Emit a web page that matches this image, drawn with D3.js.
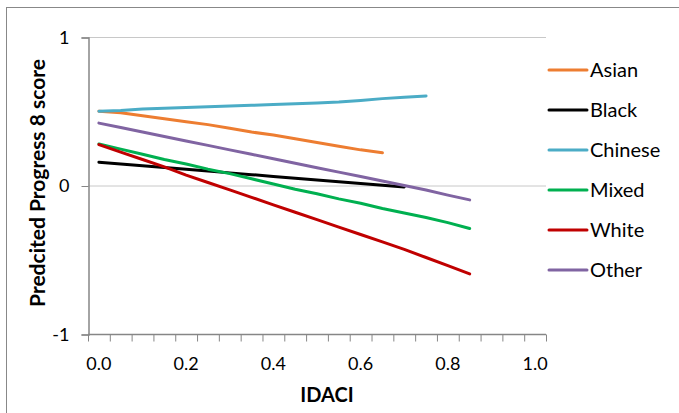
<!DOCTYPE html>
<html><head><meta charset="utf-8">
<script src="https://cdn.jsdelivr.net/npm/d3@7"></script>
<style>body{margin:0;background:#fff}svg{display:block}text{font-family:Lato,"Open Sans",sans-serif}</style>
</head><body><svg id="c" width="679" height="413"></svg>
<script>
const categories = d3.range(0, 21).map(i => +(i * 0.05).toFixed(2));
const tickLabels = ["0.0","0.2","0.4","0.6","0.8","1.0"];
const yTicks = [-1, 0, 1];
const seriesNames = ["Asian","Black","Chinese","Mixed","White","Other"];
const seriesColors = ["#ED7D31","#000000","#4BACC6","#00B050","#C00000","#8064A2"];
const asian   = [0.50,0.49,0.47,0.45,0.43,0.41,0.385,0.36,0.34,0.315,0.29,0.265,0.24,0.22];
const black   = [0.157,0.145,0.133,0.121,0.109,0.097,0.085,0.073,0.061,0.049,0.037,0.025,0.013,0.001,-0.01];
const chinese = [0.50,0.505,0.515,0.52,0.525,0.53,0.535,0.54,0.545,0.55,0.556,0.562,0.572,0.585,0.595,0.603];
const mixed   = [0.28,0.245,0.21,0.175,0.145,0.11,0.08,0.045,0.01,-0.025,-0.055,-0.09,-0.12,-0.155,-0.185,-0.215,-0.25,-0.29];
const white   = [0.275,0.225,0.175,0.125,0.07,0.02,-0.03,-0.08,-0.13,-0.18,-0.23,-0.28,-0.33,-0.38,-0.43,-0.485,-0.54,-0.595];
const other   = [0.42,0.39,0.36,0.33,0.30,0.27,0.24,0.21,0.18,0.15,0.12,0.09,0.06,0.03,0.0,-0.03,-0.065,-0.097];
const seriesValues = [asian, black, chinese, mixed, white, other];

const svg = d3.select("#c");
svg.append("rect").attr("x",6.5).attr("y",7.5).attr("width",700).attr("height",420)
  .attr("fill","none").attr("stroke","#888").attr("stroke-width",1);

const x0 = 88, x1 = 546, yTop = 37, yBot = 334;
const xBand = d3.scaleBand().domain(categories).range([x0, x1]).paddingInner(0).paddingOuter(0);
const xPos = v => xBand(v) + xBand.bandwidth()/2;
const y = d3.scaleLinear().domain([-1, 1]).range([yBot, yTop]);

// gridlines
svg.append("g").selectAll("line").data(yTicks.filter(t => t > -1)).join("line")
  .attr("x1", x0).attr("x2", x1).attr("y1", d => y(d)+0.5).attr("y2", d => y(d)+0.5)
  .attr("stroke", "#C8C8C8").attr("stroke-width", 1);

// y axis
const yAxis = svg.append("g").attr("transform", `translate(${x0+0.5},0.5)`)
  .call(d3.axisLeft(y).tickValues(yTicks).tickFormat(d => d < 0 ? "-" + Math.abs(d) : d).tickSize(7).tickPadding(12));
yAxis.select(".domain").attr("stroke", "#868686").attr("stroke-width", 1.5);
yAxis.selectAll(".tick line").attr("stroke", "#868686");
yAxis.selectAll("text").attr("font-size", 18).attr("fill", "#000").attr("font-family", "Lato, sans-serif");

// x axis
const xAxisG = svg.append("g").attr("transform", `translate(0,${yBot+0.5})`);
xAxisG.append("line").attr("x1", x0).attr("x2", x1).attr("stroke", "#868686").attr("stroke-width", 1.5);
const bounds = categories.map(c => xBand(c)).concat([x1]);
xAxisG.selectAll("line.tk").data(bounds).join("line").attr("class","tk")
  .attr("x1", d => d+0.5).attr("x2", d => d+0.5).attr("y1", 0).attr("y2", 7)
  .attr("stroke", "#868686").attr("stroke-width", 1);
const labeled = categories.filter((c, i) => i % 4 === 0);
xAxisG.selectAll("text").data(labeled).join("text")
  .attr("x", d => xPos(d)).attr("y", 369 - yBot).attr("text-anchor", "middle")
  .attr("font-size", 18).attr("fill", "#000")
  .text((d, i) => tickLabels[i]);

// titles
svg.append("text").attr("x", 327).attr("y", 402).attr("text-anchor","middle")
  .attr("font-size", 20).attr("font-weight","bold").text("IDACI");
svg.append("text").attr("transform", `translate(45,183) rotate(-90)`)
  .attr("text-anchor","middle").attr("font-size", 21).attr("font-weight","bold")
  .text("Predcited Progress 8 score");

// lines
const line = d3.line().x((d, i) => xPos(categories[i])).y(d => y(d));
svg.append("g").selectAll("path").data(seriesValues).join("path")
  .attr("d", d => line(d)).attr("fill","none")
  .attr("stroke", (d, i) => seriesColors[i]).attr("stroke-width", 3)
  .attr("stroke-linejoin","round").attr("stroke-linecap","round");

// legend
const lg = svg.append("g");
seriesNames.forEach((n, i) => {
  const ly = 70 + i * 40;
  lg.append("line").attr("x1", 549).attr("x2", 587).attr("y1", ly).attr("y2", ly)
    .attr("stroke", seriesColors[i]).attr("stroke-width", 3).attr("stroke-linecap","round");
  lg.append("text").attr("x", 590).attr("y", ly + 7).attr("font-size", 20).attr("fill","#000").text(n);
});
</script></body></html>
